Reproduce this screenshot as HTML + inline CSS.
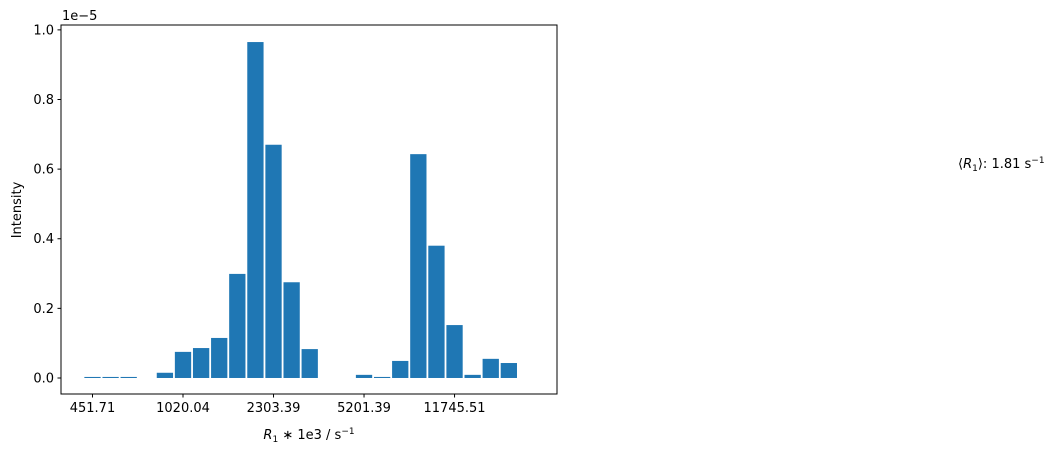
<!DOCTYPE html>
<html><head><meta charset="utf-8"><style>
html,body{margin:0;padding:0;background:#fff;}
svg{display:block;font-family:"DejaVu Sans","Liberation Sans",sans-serif;}
</style></head><body>
<svg id="chart" width="1061" height="455" xmlns="http://www.w3.org/2000/svg">
<g id="bars"></g>
<g id="axes"></g>
<text x="62" y="20" font-size="13">1e−5</text>
<text x="21" y="210" font-size="13" text-anchor="middle" transform="rotate(-90 21 210)">Intensity</text>
<text x="309" y="439" font-size="13" text-anchor="middle"><tspan font-style="italic">R</tspan><tspan font-size="9" dy="3">1</tspan><tspan dy="-3"> ∗ 1e3 / s</tspan><tspan font-size="9" dy="-5">−1</tspan></text>
<text x="958" y="168" font-size="13">⟨<tspan font-style="italic">R</tspan><tspan font-size="9" dy="3">1</tspan><tspan dy="-3">⟩: 1.81 s</tspan><tspan font-size="9" dy="-5">−1</tspan></text>
</svg>
<script>
const values = [0.003,0.003,0.003,0,0.015,0.075,0.086,0.115,0.299,0.965,0.67,0.275,0.083,0,0,0.009,0.003,0.049,0.643,0.38,0.152,0.009,0.055,0.043];
const xTickIdx = [0,5,10,15,20];
const xTickLabels = ["451.71","1020.04","2303.39","5201.39","11745.51"];
const yTicks = [0,0.2,0.4,0.6,0.8,1.0];
const yTickLabels = ["0.0","0.2","0.4","0.6","0.8","1.0"];
const NS="http://www.w3.org/2000/svg";
const L=61,R=557,T=25,B=394;
const xmin=-1.74,xmax=25.66,ymin=-0.046,ymax=1.014;
const sx=v=>L+(v-xmin)/(xmax-xmin)*(R-L);
const sy=v=>B-(v-ymin)/(ymax-ymin)*(B-T);
const slot=sx(1)-sx(0), bw=slot*0.9;
const bars=document.getElementById('bars'), axes=document.getElementById('axes');
function mk(tag,attrs,parent){const e=document.createElementNS(NS,tag);for(const k in attrs)e.setAttribute(k,attrs[k]);parent.appendChild(e);return e;}
values.forEach((v,i)=>{
  if(v<=0)return;
  const r=mk('rect',{x:sx(i)-bw/2,y:sy(v),width:bw,height:sy(0)-sy(v),fill:'#1f77b4'},bars);
  
  
});
const f=mk('rect',{x:L,y:T,width:R-L,height:B-T,fill:'none',stroke:'#000','stroke-width':1},axes);


yTicks.forEach((v,i)=>{
  const y=sy(v);
  mk('line',{x1:L-3.5,x2:L,y1:y,y2:y,stroke:'#000'},axes);
  const t=mk('text',{x:L-7,y:y+4.5,'font-size':13,'text-anchor':'end'},axes);
  t.textContent=yTickLabels[i];
  
  
});
xTickIdx.forEach((v,i)=>{
  const x=sx(v);
  mk('line',{x1:x,x2:x,y1:B,y2:B+3.5,stroke:'#000'},axes);
  const t=mk('text',{x:x,y:B+18,'font-size':13,'text-anchor':'middle'},axes);
  t.textContent=xTickLabels[i];
  
  
});
</script>
</body></html>
